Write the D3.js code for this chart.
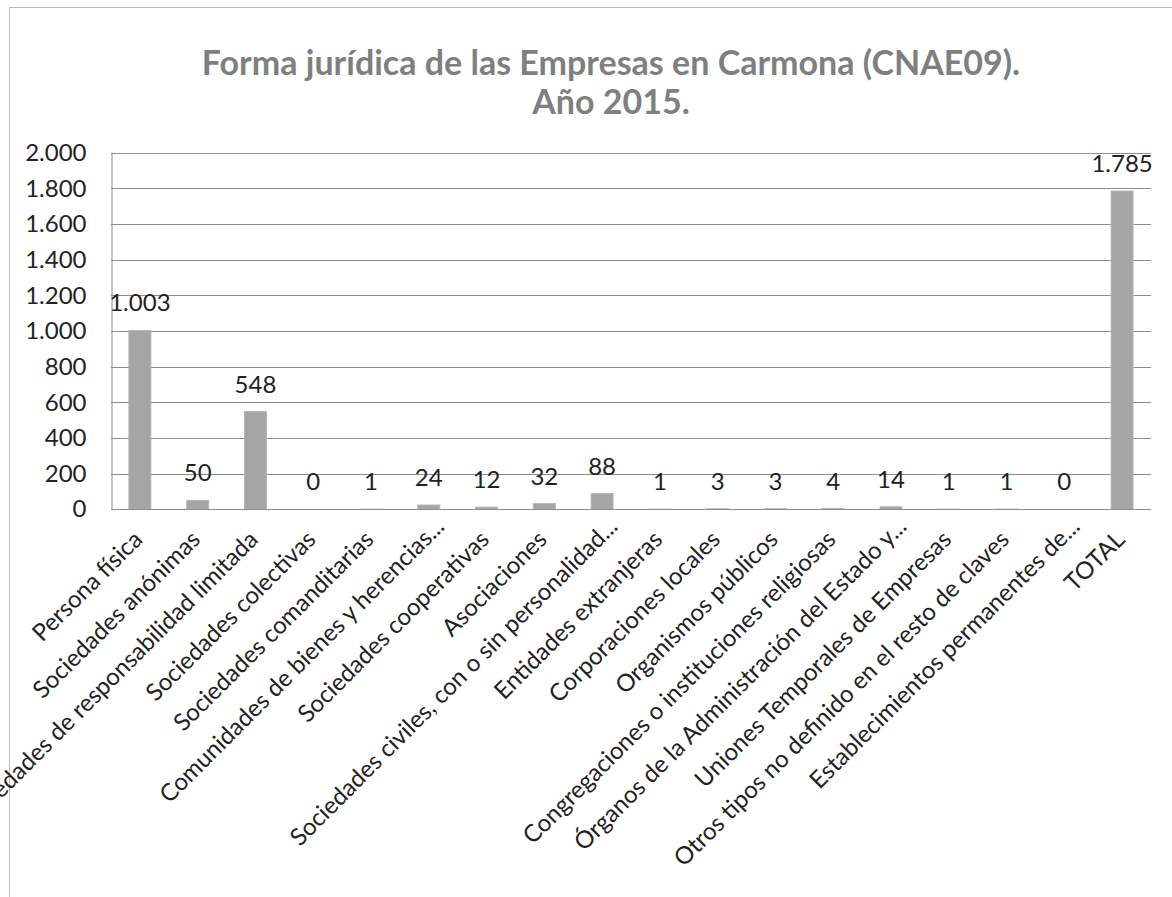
<!DOCTYPE html>
<html>
<head>
<meta charset="utf-8">
<script src="https://cdn.jsdelivr.net/npm/d3@7"></script>
<style>
  body { margin: 0; background: #fff; }
  svg { display: block; }
</style>
</head>
<body>
<div id="chart"></div>
<script>
var categories = [
  "Persona física",
  "Sociedades anónimas",
  "Sociedades de responsabilidad limitada",
  "Sociedades colectivas",
  "Sociedades comanditarias",
  "Comunidades de bienes y herencias...",
  "Sociedades cooperativas",
  "Asociaciones",
  "Sociedades civiles, con o sin personalidad...",
  "Entidades extranjeras",
  "Corporaciones locales",
  "Organismos públicos",
  "Congregaciones o instituciones religiosas",
  "Órganos de la Administración del Estado y...",
  "Uniones Temporales de Empresas",
  "Otros tipos no definido en el resto de claves",
  "Establecimientos permanentes de...",
  "TOTAL"
];
var values = [1003, 50, 548, 0, 1, 24, 12, 32, 88, 1, 3, 3, 4, 14, 1, 1, 0, 1785];
var yTicks = [0, 200, 400, 600, 800, 1000, 1200, 1400, 1600, 1800, 2000];
var titleLines = ["Forma jurídica de las Empresas en Carmona (CNAE09).", "Año 2015."];

var w = 1172, h = 897;
var plotLeft = 111, plotRight = 1151, plotTop = 152.7, plotBottom = 509.3;
var font = "Lato, 'Open Sans', sans-serif";

// numbers with a dot as thousands separator
var fmt = d3.formatLocale({decimal: ",", thousands: ".", grouping: [3], currency: ["", "€"]}).format(",d");

var svg = d3.select("#chart").append("svg").attr("width", w).attr("height", h);

// chart frame
svg.append("rect")
  .attr("x", 9.5).attr("y", 7.5)
  .attr("width", w + 20).attr("height", h + 20)
  .attr("fill", "none").attr("stroke", "#bcbcbc").attr("stroke-width", 1);

var x = d3.scaleBand().domain(categories).range([plotLeft, plotRight]).paddingInner(0.62).paddingOuter(0.31);
var y = d3.scaleLinear().domain([0, 2000]).range([plotBottom, plotTop]);

// gridlines
svg.append("g")
  .selectAll("line")
  .data(yTicks)
  .enter()
  .append("line")
  .attr("x1", plotLeft).attr("x2", plotRight)
  .attr("y1", function (d) { return Math.round(y(d)) + 0.5; })
  .attr("y2", function (d) { return Math.round(y(d)) + 0.5; })
  .attr("stroke", "#8c8c8c").attr("stroke-width", 1);

// y axis
var yAxis = svg.append("g")
  .attr("transform", "translate(" + (plotLeft + 0.5) + ",0)")
  .call(d3.axisLeft(y).tickValues(yTicks).tickFormat(fmt).tickSize(0).tickPadding(25));
yAxis.select(".domain").attr("stroke", "#8c8c8c");
yAxis.selectAll("text")
  .attr("font-family", font).attr("font-size", "24px").attr("fill", "#222");

// bars
svg.append("g")
  .selectAll("rect")
  .data(values)
  .enter()
  .append("rect")
  .attr("x", function (d, i) { return x(categories[i]); })
  .attr("width", x.bandwidth())
  .attr("y", function (d) { return y(d); })
  .attr("height", function (d) { return plotBottom - y(d); })
  .attr("fill", "#a5a5a5")
  .attr("stroke", function (d) { return d > 0 ? "#b4b4b4" : "none"; })
  .attr("stroke-width", 1);

// x axis line
svg.append("line")
  .attr("x1", plotLeft).attr("x2", plotRight)
  .attr("y1", Math.round(plotBottom) + 0.5).attr("y2", Math.round(plotBottom) + 0.5)
  .attr("stroke", "#8c8c8c");

// value labels
svg.append("g")
  .selectAll("text")
  .data(values)
  .enter()
  .append("text")
  .text(function (d) { return fmt(d); })
  .attr("text-anchor", "middle")
  .attr("x", function (d, i) { return x(categories[i]) + x.bandwidth() / 2; })
  .attr("y", function (d) { return y(d) - 19; })
  .attr("font-family", font).attr("font-size", "24px").attr("fill", "#222");

// category labels (truncated ones sit a bit further out, like in Excel)
svg.append("g")
  .selectAll("text")
  .data(categories)
  .enter()
  .append("text")
  .text(function (d) { return d; })
  .attr("text-anchor", "end")
  .attr("transform", function (d) {
    var cut = d.slice(-3) === "..." ? 13 : 0;
    var cx = x(d) + x.bandwidth() / 2 + 4 + cut;
    return "translate(" + cx + "," + (541 - cut) + ") rotate(-45)";
  })
  .attr("font-family", font).attr("font-size", "24px").attr("fill", "#222");

// title
var title = svg.append("text")
  .attr("text-anchor", "middle")
  .attr("font-family", font).attr("font-weight", "bold")
  .attr("font-size", "34px").attr("fill", "#7f7f7f");
title.selectAll("tspan")
  .data(titleLines)
  .enter()
  .append("tspan")
  .attr("x", 611)
  .attr("y", function (d, i) { return 75 + i * 39; })
  .text(function (d) { return d; });
</script>
</body>
</html>
